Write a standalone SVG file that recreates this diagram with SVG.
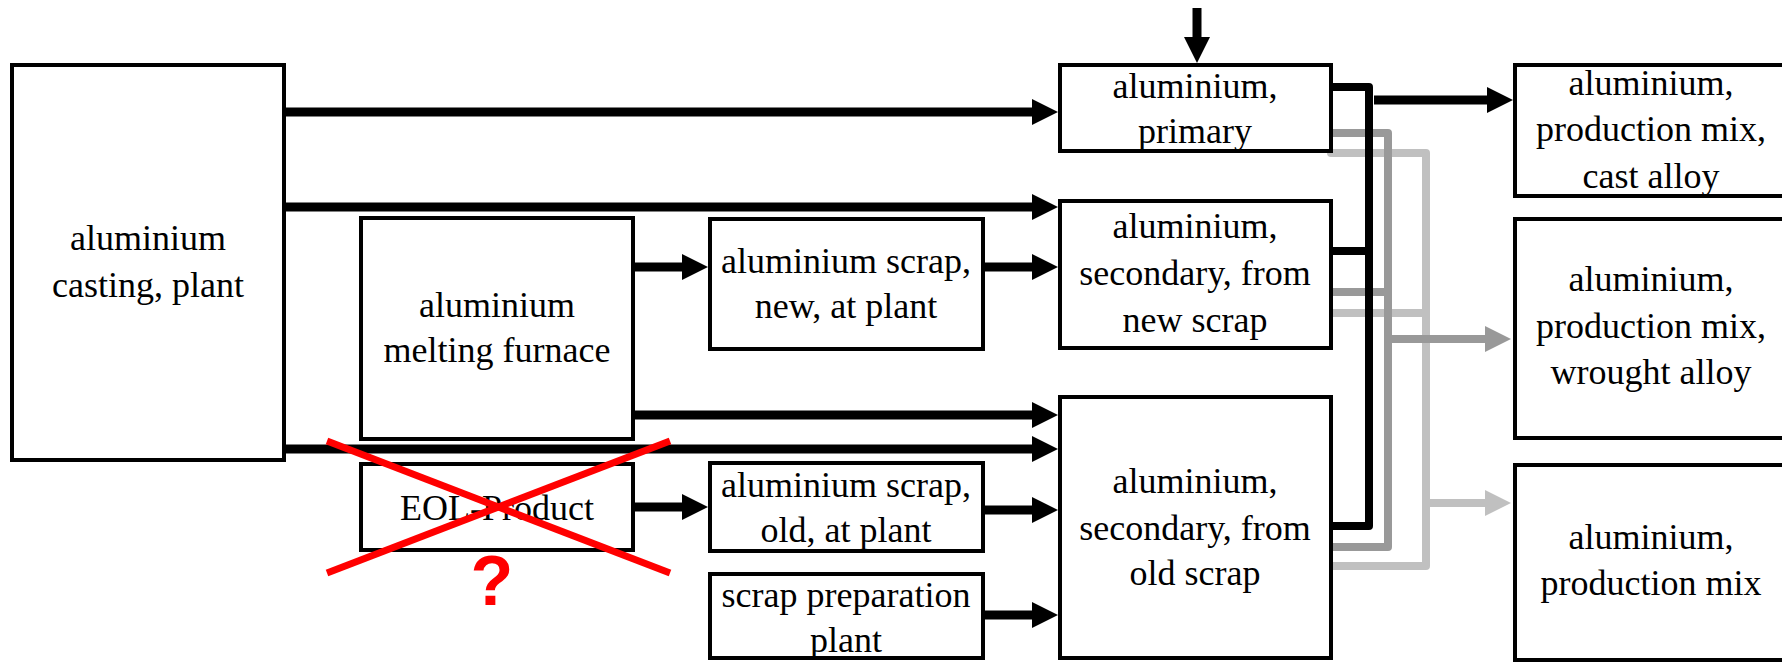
<svg xmlns="http://www.w3.org/2000/svg" width="1782" height="662" viewBox="0 0 1782 662">
  <style>
    .box { fill: #ffffff; stroke: #000000; stroke-width: 4; }
    .lbl { font-family: "Liberation Serif", "Times New Roman", serif; font-size: 36px; fill: #000000; text-anchor: middle; }
    .flow { fill: none; stroke: #000000; stroke-width: 9; marker-end: url(#ahBlack); }
    .bus { fill: none; stroke-width: 8; stroke-linecap: round; stroke-linejoin: round; }
    .dark { stroke: #999999; }
    .light { stroke: #c0c0c0; }
    .black { stroke: #000000; }
    .cross { stroke: #ff0000; stroke-width: 7; }
  </style>
  <defs>
    <marker id="ahBlack" viewBox="0 0 26 26" markerWidth="26" markerHeight="26" refX="11" refY="13" markerUnits="userSpaceOnUse" orient="auto">
      <path d="M0,0 L26,13 L0,26 z" fill="#000000"/>
    </marker>
    <marker id="ahDark" viewBox="0 0 26 26" markerWidth="26" markerHeight="26" refX="11" refY="13" markerUnits="userSpaceOnUse" orient="auto">
      <path d="M0,0 L26,13 L0,26 z" fill="#999999"/>
    </marker>
    <marker id="ahLight" viewBox="0 0 26 26" markerWidth="26" markerHeight="26" refX="11" refY="13" markerUnits="userSpaceOnUse" orient="auto">
      <path d="M0,0 L26,13 L0,26 z" fill="#c0c0c0"/>
    </marker>
  </defs>

  <!-- connectors -->
  <g id="connectors">
    <path class="flow" d="M286,112 H1043"/>
    <path class="flow" d="M286,207 H1043"/>
    <path class="flow" d="M286,449 H1043"/>
    <path class="flow" d="M635,267 H693"/>
    <path class="flow" d="M635,415 H1043"/>
    <path class="flow" d="M985,267 H1043"/>
    <path class="flow" d="M635,507 H693"/>
    <path class="flow" d="M985,510 H1043"/>
    <path class="flow" d="M985,615 H1043"/>
    <path class="flow" d="M1197,8 V48"/>

    <!-- production mix collectors -->
    <path class="bus light" d="M1331,153 H1426 V566 H1331 M1331,313 H1426"/>
    <path class="bus light" d="M1426,503 H1496" marker-end="url(#ahLight)" stroke-linecap="butt"/>
    <path class="bus dark" d="M1331,133 H1388 V547 H1331 M1331,292 H1388"/>
    <path class="bus dark" d="M1388,339 H1496" marker-end="url(#ahDark)" stroke-width="9"/>
    <path class="bus black" d="M1331,87 H1369 V526 H1331 M1331,251 H1369"/>
    <path class="flow" d="M1374,100 H1498"/>
  </g>

  <g id="casting">
    <rect class="box" x="12" y="65" width="272" height="395"/>
    <text class="lbl" x="148" y="250">aluminium</text>
    <text class="lbl" x="148" y="297">casting, plant</text>
  </g>

  <g id="furnace">
    <rect class="box" x="361" y="218" width="272" height="221"/>
    <text class="lbl" x="497" y="317">aluminium</text>
    <text class="lbl" x="497" y="362">melting furnace</text>
  </g>

  <g id="eol-product">
    <rect class="box" x="361" y="464" width="272" height="86"/>
    <text class="lbl" x="497" y="520">EOL-Product</text>
    <line class="cross" x1="327" y1="441" x2="670" y2="573"/>
    <line class="cross" x1="327" y1="573" x2="670" y2="441"/>
    <text x="492" y="605" font-family="Liberation Sans, Arial, sans-serif" font-weight="bold" font-size="70" fill="#ff0000" text-anchor="middle">?</text>
  </g>

  <g id="scrap-new">
    <rect class="box" x="710" y="219" width="273" height="130"/>
    <text class="lbl" x="846" y="273">aluminium scrap,</text>
    <text class="lbl" x="846" y="318">new, at plant</text>
  </g>

  <g id="scrap-old">
    <rect class="box" x="710" y="463" width="273" height="88"/>
    <text class="lbl" x="846" y="497">aluminium scrap,</text>
    <text class="lbl" x="846" y="542">old, at plant</text>
  </g>

  <g id="scrap-prep">
    <rect class="box" x="710" y="574" width="273" height="84"/>
    <text class="lbl" x="846" y="607">scrap preparation</text>
    <text class="lbl" x="846" y="652">plant</text>
  </g>

  <g id="primary">
    <rect class="box" x="1060" y="65" width="271" height="86"/>
    <text class="lbl" x="1195" y="98">aluminium,</text>
    <text class="lbl" x="1195" y="143">primary</text>
  </g>

  <g id="secondary-new">
    <rect class="box" x="1060" y="201" width="271" height="147"/>
    <text class="lbl" x="1195" y="238">aluminium,</text>
    <text class="lbl" x="1195" y="285">secondary, from</text>
    <text class="lbl" x="1195" y="332">new scrap</text>
  </g>

  <g id="secondary-old">
    <rect class="box" x="1060" y="397" width="271" height="261"/>
    <text class="lbl" x="1195" y="493">aluminium,</text>
    <text class="lbl" x="1195" y="540">secondary, from</text>
    <text class="lbl" x="1195" y="585">old scrap</text>
  </g>

  <g id="mix-cast">
    <rect class="box" x="1515" y="65" width="273" height="131"/>
    <text class="lbl" x="1651" y="95">aluminium,</text>
    <text class="lbl" x="1651" y="141">production mix,</text>
    <text class="lbl" x="1651" y="188">cast alloy</text>
  </g>

  <g id="mix-wrought">
    <rect class="box" x="1515" y="219" width="273" height="219"/>
    <text class="lbl" x="1651" y="291">aluminium,</text>
    <text class="lbl" x="1651" y="338">production mix,</text>
    <text class="lbl" x="1651" y="384">wrought alloy</text>
  </g>

  <g id="mix">
    <rect class="box" x="1515" y="465" width="273" height="195"/>
    <text class="lbl" x="1651" y="549">aluminium,</text>
    <text class="lbl" x="1651" y="595">production mix</text>
  </g>
</svg>
